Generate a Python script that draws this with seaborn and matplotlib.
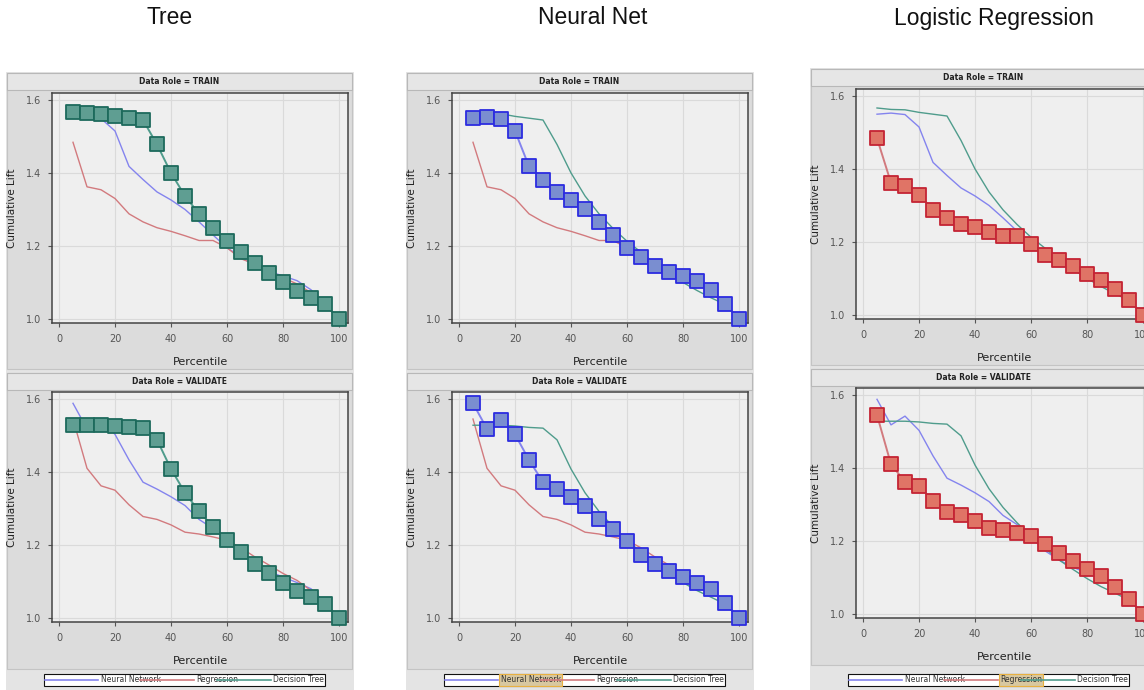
import numpy as np
import pandas as pd
import seaborn as sns
import matplotlib.pyplot as plt
from matplotlib.patches import Rectangle
from matplotlib.lines import Line2D

# data
pct = [5, 10, 15, 20, 25, 30, 35, 40, 45, 50, 55, 60, 65, 70, 75, 80, 85, 90, 95, 100]

tree_train = [1.567, 1.563, 1.562, 1.555, 1.550, 1.545, 1.478, 1.400, 1.337, 1.288,
              1.248, 1.213, 1.183, 1.152, 1.125, 1.100, 1.078, 1.058, 1.040, 1.000]
nn_train = [1.550, 1.553, 1.549, 1.515, 1.418, 1.382, 1.348, 1.326, 1.300, 1.266,
            1.230, 1.195, 1.170, 1.145, 1.130, 1.118, 1.105, 1.080, 1.042, 1.000]
reg_train = [1.484, 1.362, 1.354, 1.330, 1.288, 1.266, 1.250, 1.240, 1.228, 1.215,
             1.215, 1.195, 1.165, 1.150, 1.133, 1.113, 1.096, 1.072, 1.040, 1.000]

tree_valid = [1.528, 1.528, 1.528, 1.526, 1.522, 1.520, 1.488, 1.408, 1.343, 1.292,
              1.250, 1.213, 1.180, 1.148, 1.122, 1.097, 1.075, 1.057, 1.038, 1.000]
nn_valid = [1.588, 1.518, 1.542, 1.503, 1.433, 1.372, 1.353, 1.332, 1.308, 1.270,
            1.245, 1.210, 1.173, 1.148, 1.128, 1.112, 1.097, 1.080, 1.042, 1.000]
reg_valid = [1.545, 1.410, 1.362, 1.350, 1.310, 1.278, 1.270, 1.255, 1.235, 1.230,
             1.222, 1.213, 1.192, 1.167, 1.145, 1.122, 1.103, 1.075, 1.040, 1.000]

models = ['Neural Network', 'Regression', 'Decision Tree']
col_titles = ['Tree', 'Neural Net', 'Logistic Regression']
highlight = ['Decision Tree', 'Neural Network', 'Regression']
roles = ['TRAIN', 'VALIDATE']

train = {'Neural Network': nn_train, 'Regression': reg_train, 'Decision Tree': tree_train}
valid = {'Neural Network': nn_valid, 'Regression': reg_valid, 'Decision Tree': tree_valid}

line_col = {'Neural Network': '#8484ee', 'Regression': '#d27a7e', 'Decision Tree': '#4f9c8c'}
mk_face = {'Neural Network': '#7a8ed0', 'Regression': '#e07466', 'Decision Tree': '#5f9e92'}
mk_edge = {'Neural Network': '#2c2ce0', 'Regression': '#c42434', 'Decision Tree': '#1d6a5c'}

W, H = 1144, 690
fig = plt.figure(figsize=(W / 100, H / 100), dpi=100)
fig.patch.set_facecolor('white')


def fbox(x, y, w, h):
    # pixel box (top-left origin) -> figure fraction
    return [x / W, 1 - (y + h) / H, w / W, h / H]


def rect(x, y, w, h, fc, ec='none', lw=0.8, z=-5):
    fig.patches.append(Rectangle((x / W, 1 - (y + h) / H), w / W, h / H,
                                 transform=fig.transFigure, facecolor=fc,
                                 edgecolor=ec, linewidth=lw, zorder=z))


origins = [(7, 73), (407, 73), (811, 69)]
centers = [170, 593, 994]

for i, (x0, y0) in enumerate(origins):
    fig.text(centers[i] / W, 1 - 18 / H, col_titles[i], ha='center', va='center',
             fontsize=16.5, family='Liberation Sans', color='#111111')

    # window chrome
    rect(x0 - 1, y0 - 1, 348, H - y0 + 1, '#e4e4e4', z=-5)
    for k, role in enumerate(roles):
        top = y0 + k * 300
        rect(x0, top, 345, 296, '#dcdcdc', '#c4c4c4', z=-4)
        rect(x0, top, 345, 17, '#e6e6e6', '#b8b8b8', z=-3)
        fig.text((x0 + 172) / W, 1 - (top + 8.5) / H, 'Data Role = ' + role,
                 ha='center', va='center', fontsize=5.5, fontweight='bold',
                 color='#222222')

        ax = fig.add_axes(fbox(x0 + 45, top + 20 - k, 296, 230))
        ax.set_zorder(1)
        ax.set_facecolor('#efefef')
        data = train if k == 0 else valid
        hl = highlight[i]
        for m in models:
            if m == hl:
                continue
            sns.lineplot(x=pct, y=data[m], ax=ax, color=line_col[m], lw=1.0, zorder=2)
        sns.lineplot(x=pct, y=data[hl], ax=ax, color=line_col[hl], lw=1.4, zorder=3)
        sns.scatterplot(x=pct, y=data[hl], ax=ax, marker='s', s=100,
                        color=mk_face[hl], edgecolor=mk_edge[hl], linewidth=1.3,
                        zorder=4, clip_on=False)

        ax.set_xlim(-2.5, 103.2)
        ax.set_ylim(0.989, 1.619)
        ax.set_xticks([0, 20, 40, 60, 80, 100])
        ax.set_yticks([1.0, 1.2, 1.4, 1.6])
        ax.set_yticklabels(['1.0', '1.2', '1.4', '1.6'])
        ax.grid(True, color='#dadada', lw=0.8)
        ax.set_axisbelow(True)
        ax.tick_params(labelsize=7, colors='#555555', length=3, width=0.8,
                       pad=5)
        for sp in ax.spines.values():
            sp.set_color('#444444')
            sp.set_linewidth(1.1)
        ax.set_xlabel('Percentile', fontsize=8, color='#222222')
        ax.set_ylabel('Cumulative Lift', fontsize=7.5, color='#222222')
        ax.xaxis.set_label_coords(0.5, -0.148)
        ax.yaxis.set_label_coords(-0.118, 0.5)

        if k == 1:
            handles = [Line2D([], [], color=line_col[m], lw=1.2) for m in models]
            leg = ax.legend(handles, models, loc='center', mode='expand', ncol=3,
                            bbox_to_anchor=fbox(x0 + 33, 674, 289, 12),
                            bbox_transform=fig.transFigure, fontsize=5.5,
                            frameon=True, fancybox=False, edgecolor='#111111',
                            framealpha=1, handlelength=7, handletextpad=0.3,
                            borderpad=0.15, columnspacing=0.3)
            leg.get_frame().set_linewidth(0.8)
            for t in leg.get_texts():
                t.set_color('#333333')
                if i > 0 and t.get_text() == highlight[i]:
                    t.set_bbox(dict(facecolor='#d8c8a0', edgecolor='#e8b040',
                                    pad=1.0, lw=0.8))

fig.savefig('out.png', dpi=100)
